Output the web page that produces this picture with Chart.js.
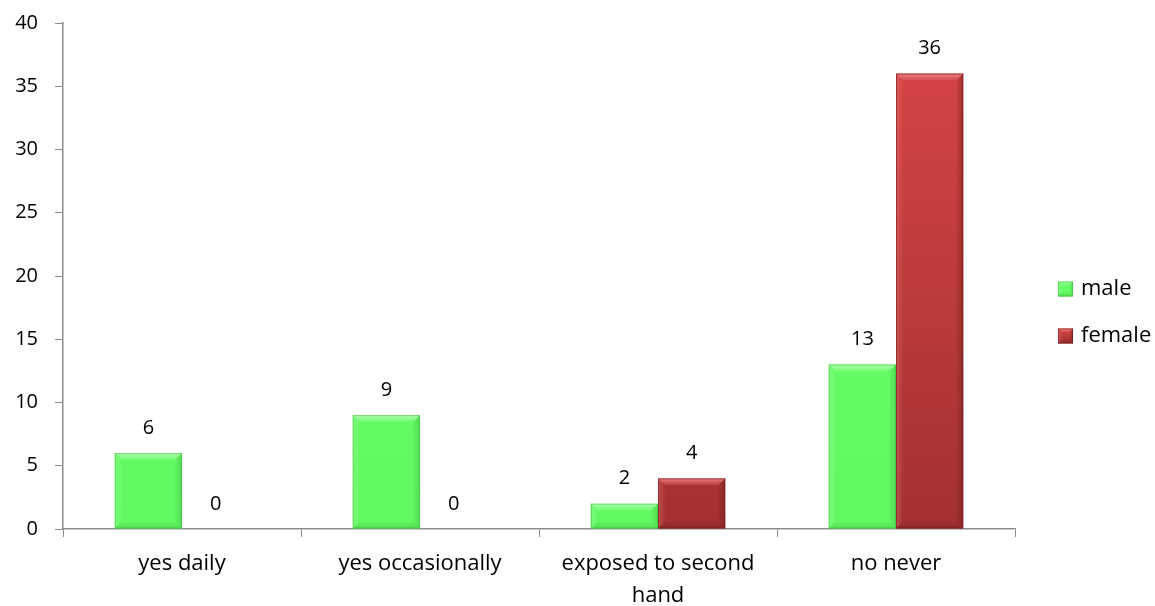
<!DOCTYPE html>
<html>
<head>
<meta charset="utf-8">
<script src="https://cdn.jsdelivr.net/npm/chart.js@4/dist/chart.umd.min.js"></script>
<style>
  html, body { margin: 0; padding: 0; background: #fff; }
  #wrap { width: 1155px; height: 606px; }
</style>
</head>
<body>
<div id="wrap"><canvas id="smoking"></canvas></div>
<script>
// smoking status by gender
const categories = ['yes daily', 'yes occasionally', ['exposed to second', 'hand'], 'no never'];
const male = [6, 9, 2, 13];
const female = [0, 0, 4, 36];
const seriesNames = ['male', 'female'];

const FONT = "'Open Sans', Lato, sans-serif";
const NUM_SIZE = 20;   // digits
const WORD_SIZE = 22;  // category and legend text
const AXIS = '#8c8c8c';

// base colours for each series: [top, bottom, bevel light, bevel dark]
const palette = [
  ['#68ff68', '#62f862', '#b4ffb4', '#3cb83c'],
  ['#d94545', '#a23131', '#f08080', '#6a1a1a']
];

function barFill(idx) {
  return (ctx) => {
    const area = ctx.chart.chartArea;
    if (!area) return palette[idx][0];
    const g = ctx.chart.ctx.createLinearGradient(0, area.top, 0, area.bottom);
    g.addColorStop(0, palette[idx][0]);
    g.addColorStop(1, palette[idx][1]);
    return g;
  };
}

// bevelled edges on a rectangle
function bevel(c, x0, y0, x1, y1, cols) {
  const b = Math.min(7, (x1 - x0) / 4, (y1 - y0) / 3);
  if (b <= 0) return;
  c.save();
  const face = (pts, fill, alpha) => {
    c.beginPath();
    c.moveTo(pts[0], pts[1]);
    for (let i = 2; i < pts.length; i += 2) c.lineTo(pts[i], pts[i + 1]);
    c.closePath();
    c.globalAlpha = alpha;
    c.fillStyle = fill;
    c.fill();
  };
  const lin = (ax, ay, bx, by, col) => {
    const g = c.createLinearGradient(ax, ay, bx, by);
    g.addColorStop(0, col);
    g.addColorStop(1, col + '20');
    return g;
  };
  // top highlight, sides and bottom shade
  face([x0, y0, x1, y0, x1 - b, y0 + b, x0 + b, y0 + b], lin(0, y0, 0, y0 + b, cols[2]), 0.95);
  face([x0, y0, x0 + b, y0 + b, x0 + b, y1 - b, x0, y1], lin(x0, 0, x0 + b, 0, cols[2]), 0.35);
  face([x1, y0, x1, y1, x1 - b, y1 - b, x1 - b, y0 + b], lin(x1, 0, x1 - b, 0, cols[3]), 0.45);
  face([x0, y1, x0 + b, y1 - b, x1 - b, y1 - b, x1, y1], lin(0, y1, 0, y1 - b, cols[3]), 0.4);
  c.globalAlpha = 0.55;
  c.strokeStyle = cols[3];
  c.lineWidth = 1;
  c.strokeRect(x0 + 0.5, y0 + 0.5, x1 - x0 - 1, y1 - y0 - 1);
  c.restore();
}

const barDecor = {
  id: 'barDecor',
  afterDatasetsDraw(chart) {
    const c = chart.ctx;
    chart.data.datasets.forEach((ds, i) => {
      const meta = chart.getDatasetMeta(i);
      meta.data.forEach((el, j) => {
        const w = el.width;
        const x0 = el.x - w / 2, x1 = el.x + w / 2;
        if (ds.data[j] > 0) bevel(c, x0, el.y, x1, el.base, palette[i]);
        // value label
        c.save();
        c.fillStyle = '#000';
        c.font = NUM_SIZE + 'px ' + FONT;
        c.textAlign = 'center';
        c.textBaseline = 'middle';
        c.fillText(String(ds.data[j]), el.x, el.y - 25);
        c.restore();
      });
    });
  },
  afterDraw(chart) {
    // legend on the right
    const c = chart.ctx;
    const ys = [289, 336];
    seriesNames.forEach((name, i) => {
      const x0 = 1058, y = ys[i];
      const g = c.createLinearGradient(0, y - 7.5, 0, y + 7.5);
      g.addColorStop(0, palette[i][0]);
      g.addColorStop(1, palette[i][1]);
      c.fillStyle = g;
      c.fillRect(x0, y - 7.5, 15, 15);
      bevel(c, x0, y - 7.5, x0 + 15, y + 7.5, palette[i]);
      c.fillStyle = '#000';
      c.font = WORD_SIZE + 'px ' + FONT;
      c.textAlign = 'left';
      c.textBaseline = 'middle';
      c.fillText(name, x0 + 23, y);
    });
  }
};

new Chart(document.getElementById('smoking'), {
  type: 'bar',
  data: {
    labels: categories,
    datasets: [
      { label: seriesNames[0], data: male, backgroundColor: barFill(0) },
      { label: seriesNames[1], data: female, backgroundColor: barFill(1) }
    ]
  },
  options: {
    responsive: true,
    maintainAspectRatio: false,
    animation: false,
    events: [],
    layout: { padding: { left: 0, right: 140, top: 23, bottom: 0 } },
    datasets: { bar: { categoryPercentage: 0.565, barPercentage: 1, borderWidth: 0 } },
    plugins: { legend: { display: false }, tooltip: { enabled: false } },
    scales: {
      x: {
        grid: { offset: true, drawOnChartArea: false, color: AXIS, tickLength: 8 },
        border: { color: AXIS, width: 1.5 },
        ticks: { color: '#000', font: { family: FONT, size: WORD_SIZE, lineHeight: 1.45 }, padding: 11, maxRotation: 0 },
        afterFit: (s) => { s.height = 77; }
      },
      y: {
        min: 0, max: 40,
        grid: { drawOnChartArea: false, color: AXIS, tickLength: 8 },
        border: { color: AXIS, width: 1.5 },
        ticks: { stepSize: 5, color: '#000', font: { family: FONT, size: NUM_SIZE, lineHeight: 0.4 }, padding: 17 },
        afterFit: (s) => { s.width = 63; }
      }
    }
  },
  plugins: [barDecor]
});
</script>
</body>
</html>
